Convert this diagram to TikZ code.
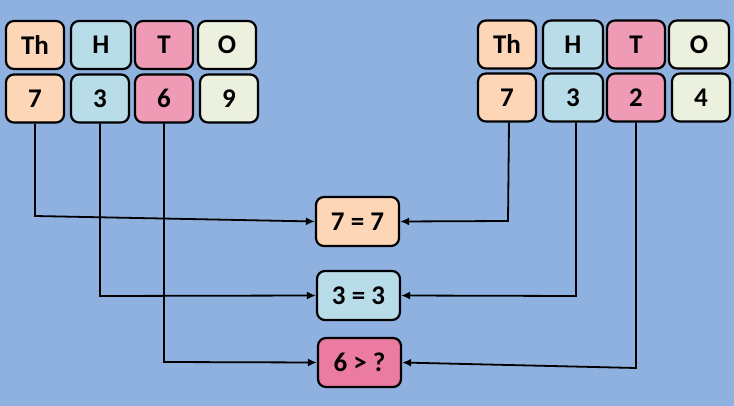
\documentclass[tikz,border=0pt]{standalone}
\usepackage{fontspec}
\setmainfont{Carlito}
\usepackage{tikz}
\usetikzlibrary{arrows.meta}

\definecolor{bgblue}{HTML}{8EB1E0}
\definecolor{thou}{HTML}{FDD6B8}
\definecolor{hund}{HTML}{B8DDE9}
\definecolor{tens}{HTML}{F09BB5}
\definecolor{ones}{HTML}{EBF0DF}
\definecolor{less}{HTML}{EB7BA0}

\begin{document}
\begin{tikzpicture}[x=1pt,y=-1pt,
    digit/.style={draw=black,line width=2.2pt,rounded corners=8pt,minimum width=58pt,minimum height=48pt,
        font=\fontsize{27}{30}\selectfont\bfseries,inner sep=0pt},
    result/.style={digit,minimum width=83pt,minimum height=49pt},
    arr/.style={line width=1.8pt,-{Latex[length=9pt,width=8pt]}}]
                \fill[bgblue] (0,0) rectangle (734,406);
                % left number
                \node[digit,fill=thou] (lth) at (35,45) {Th};
                \node[digit,fill=hund,minimum width=60pt] (lh) at (101,45) {H};
                \node[digit,fill=tens] (lt) at (164,45) {T};
                \node[digit,fill=ones] (lo) at (227,45) {O};
                \node[digit,fill=thou] (l7) at (35,98.5) {7};
                \node[digit,fill=hund] (l3) at (100,98.5) {3};
                \node[digit,fill=tens] (l6) at (164,98.5) {6};
                \node[digit,fill=ones] (l9) at (229,98.5) {9};
                % right number
                \node[digit,fill=thou] (rth) at (507,44.5) {Th};
                \node[digit,fill=hund,minimum width=60pt] (rh) at (573,44.5) {H};
                \node[digit,fill=tens] (rt) at (636,44.5) {T};
                \node[digit,fill=ones,minimum width=60pt] (ro) at (699,44.5) {O};
                \node[digit,fill=thou] (r7) at (507,97.5) {7};
                \node[digit,fill=hund,minimum width=60pt] (r3) at (573,97.5) {3};
                \node[digit,fill=tens] (r2) at (636,97.5) {2};
                \node[digit,fill=ones] (r4) at (701,97.5) {4};
                % comparisons
                \node[result,fill=thou] (cth) at (357.5,221.5) {7 = 7};
                \node[result,fill=hund] (ch) at (358.5,295.5) {3 = 3};
                \node[result,fill=less] (ct) at (359.5,362.5) {6 > ?};
                \draw[arr] (l7) -- (l7 |- 0,216) -- (cth.west);
                \draw[arr] (l3) -- (l3 |- 0,296) -- (ch.west);
                \draw[arr] (l6) -- (l6 |- 0,362) -- (ct.west);
                \draw[arr] (r7.south) ++(2,0) -- (508,221) -- (cth.east);
                \draw[arr] (r3.south) ++(3,0) -- (576,296) -- (ch.east);
                \draw[arr] (r2) -- (r2 |- 0,368) -- (ct.east);
            \end{tikzpicture}
\end{document}
